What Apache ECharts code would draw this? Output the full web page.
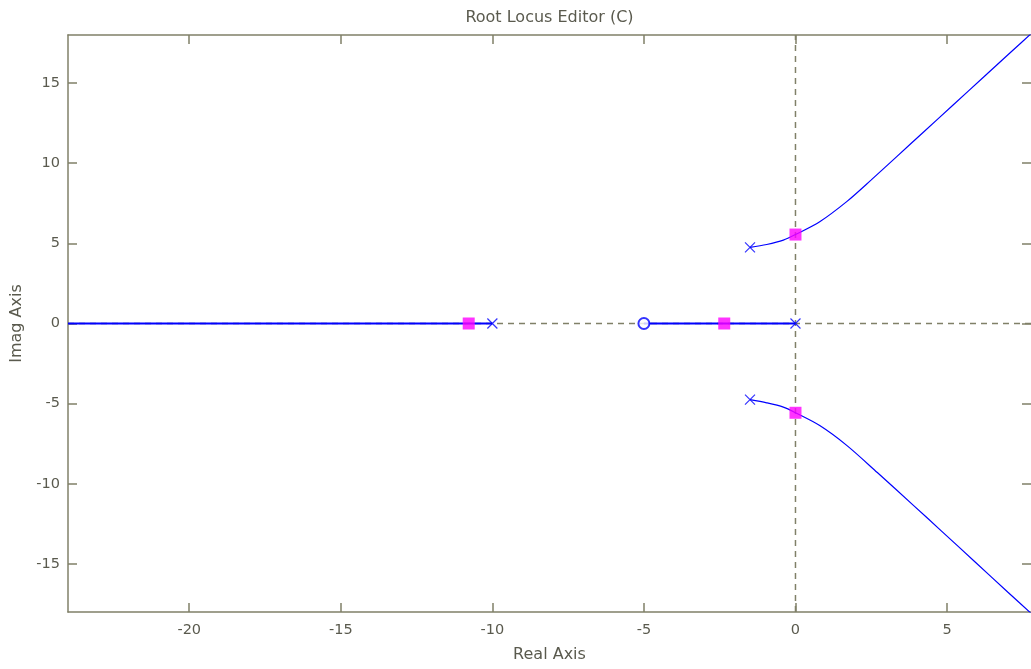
<!DOCTYPE html>
<html>
<head>
<meta charset="utf-8">
<title>Root Locus Editor (C)</title>
<script src="https://cdn.jsdelivr.net/npm/echarts@6/dist/echarts.min.js"></script>
<style>
  html, body { margin: 0; padding: 0; background: #fff; }
  #main { width: 1031px; height: 669px; }
</style>
</head>
<body>
<div id="main"></div>
<script>
// axis limits and tick labels
const xRange = [-24, 7.77];
const yRange = [-18, 18];
const xTicks = [-20, -15, -10, -5, 0, 5];
const yTicks = [-15, -10, -5, 0, 5, 10, 15];

// open-loop poles (x) and zero (o)
const poles = [[-10, 0], [0, 0], [-1.5, 4.75], [-1.5, -4.75]];
const zeros = [[-5, 0]];

// closed-loop poles for the current gain (pink squares)
const closedLoopPoles = [[-10.78, 0], [-2.35, 0], [0, 5.55], [0, -5.57]];

// locus branches on the real axis
const realBranchLeft = [[-24, 0], [-10, 0]];
const realBranchRight = [[-5, 0], [0, 0]];

// complex branches
const upperBranch = [
  [-1.5, 4.75], [-0.95, 4.93], [-0.4, 5.2], [0, 5.55], [0.8, 6.35], [1.7, 7.62],
  [2.5, 8.96], [3.35, 10.43], [4.2, 11.9], [5.2, 13.63], [6.2, 15.36], [7.1, 16.92],
  [7.9, 18.3]
];
const lowerBranch = [
  [-1.5, -4.75], [-0.95, -4.95], [-0.4, -5.22], [0, -5.57], [0.8, -6.37], [1.7, -7.62],
  [2.7, -9.3], [3.9, -11.36], [4.8, -12.92], [5.9, -14.83], [7.0, -16.75],
  [7.9, -18.3]
];

const axisColor = '#808068';
const textColor = '#5a5a4e';
const fontFamily = '"DejaVu Sans", Verdana, sans-serif';
const locusBlue = '#0000ff';

function boxAxis(position, range, ticks, showLabels) {
  return {
    type: 'value',
    position: position,
    min: range[0],
    max: range[1],
    splitLine: { show: false },
    axisLine: { show: true, onZero: false, lineStyle: { color: axisColor, width: 1.5 } },
    axisTick: {
      show: true, inside: true, length: 9, customValues: ticks,
      lineStyle: { color: axisColor, width: 1.5 }
    },
    axisLabel: {
      show: showLabels, customValues: ticks, margin: 8,
      color: textColor, fontSize: 14.5, fontFamily: fontFamily
    }
  };
}

const nameStyle = { color: textColor, fontSize: 16, fontFamily: fontFamily };

const xBottom = boxAxis('bottom', xRange, xTicks, true);
xBottom.axisLabel.margin = 11;
xBottom.name = 'Real Axis';
xBottom.nameLocation = 'middle';
xBottom.nameGap = 35;
xBottom.nameTextStyle = nameStyle;

const xTop = boxAxis('top', xRange, xTicks, false);
xTop.name = 'Root Locus Editor (C)';
xTop.nameLocation = 'middle';
xTop.nameGap = 9;
xTop.nameTextStyle = nameStyle;

const yLeft = boxAxis('left', yRange, yTicks, true);
yLeft.name = 'Imag Axis';
yLeft.nameLocation = 'middle';
yLeft.nameGap = 43;
yLeft.nameTextStyle = nameStyle;

const yRight = boxAxis('right', yRange, yTicks, false);
yRight.axisLine.show = false;

function locusLine(data, width) {
  return {
    type: 'line',
    data: data,
    showSymbol: false,
    smooth: 0.3,
    z: 3,
    lineStyle: { color: locusBlue, width: width },
    silent: true
  };
}

// dashed lines through the origin, spanning the axis limits
function refLine(data) {
  return {
    type: 'line',
    data: data,
    showSymbol: false,
    z: 1,
    silent: true,
    lineStyle: { color: axisColor, type: [6, 5], width: 1.5 }
  };
}

var myChart = echarts.init(document.getElementById('main'));
myChart.setOption({
  animation: false,
  grid: { left: 68, top: 35, width: 963, height: 577, containLabel: false },
  xAxis: [xBottom, xTop],
  yAxis: [yLeft, yRight],
  series: [
    refLine([[xRange[0], 0], [xRange[1], 0]]),
    refLine([[0, yRange[0]], [0, yRange[1]]]),
    locusLine(realBranchLeft, 2),
    locusLine(realBranchRight, 2),
    locusLine(upperBranch, 1.2),
    locusLine(lowerBranch, 1.2),
    {
      type: 'scatter',
      data: poles,
      z: 4,
      symbol: 'path://M0,0L10,10M10,0L0,10',
      symbolSize: 10,
      itemStyle: { color: 'transparent', borderColor: locusBlue, borderWidth: 1.2 }
    },
    {
      type: 'scatter',
      data: zeros,
      z: 4,
      symbol: 'emptyCircle',
      symbolSize: 11,
      itemStyle: { color: locusBlue, borderWidth: 1.6 }
    },
    {
      type: 'scatter',
      data: closedLoopPoles,
      z: 5,
      symbol: 'rect',
      symbolSize: 12,
      itemStyle: { color: '#ff00ff' }
    }
  ]
});
</script>
</body>
</html>
